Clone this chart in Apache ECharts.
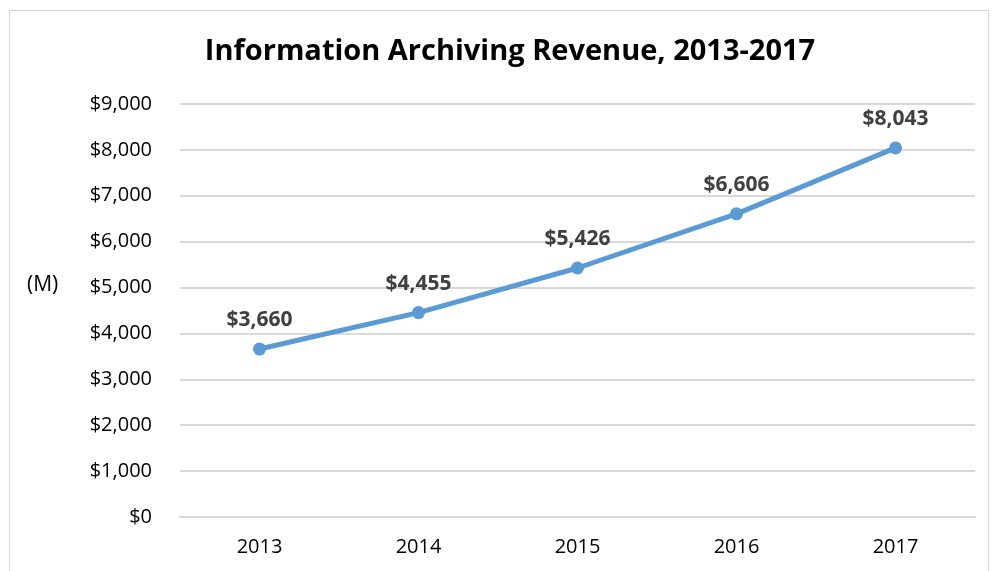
<!DOCTYPE html>
<html>
<head>
<meta charset="utf-8">
<script src="https://cdn.jsdelivr.net/npm/echarts@6/dist/echarts.min.js"></script>
<style>
  html, body { margin: 0; padding: 0; background: #fff; }
  #frame { position: absolute; left: 9px; top: 10px; width: 980px; height: 600px; border: 1px solid #d9d9d9; box-sizing: border-box; }
  #main { position: absolute; left: 0; top: 0; width: 992px; height: 571px; }
</style>
</head>
<body>
<div id="frame"></div>
<div id="main"></div>
<script>
var years = ['2013', '2014', '2015', '2016', '2017']
var revenue = [3660, 4455, 5426, 6606, 8043]

var chart = echarts.init(document.getElementById('main'))

function money(v) {
  return '$' + v.toLocaleString('en-US')
}

var option = {
  title: {
    text: 'Information Archiving Revenue, 2013-2017',
    left: 505,
    top: 32,
    textAlign: 'center',
    textStyle: {
      fontFamily: 'Open Sans',
      fontWeight: 'bold',
      fontSize: 29,
      color: '#000'
    }
  },
  graphic: [{
    type: 'text',
    left: 27,
    top: 275,
    style: {
      text: '(M)',
      font: '21px "Open Sans"',
      fill: '#000'
    }
  }],
  grid: {
    left: 180,
    right: 17,
    top: 104,
    bottom: 54
  },
  xAxis: {
    type: 'category',
    data: years,
    boundaryGap: true,
    axisLine: { lineStyle: { color: '#d9d9d9', width: 2 } },
    axisTick: { show: false },
    axisLabel: {
      margin: 20,
      fontFamily: 'Open Sans',
      fontSize: 20,
      color: '#000'
    }
  },
  yAxis: {
    type: 'value',
    min: 0,
    max: 9000,
    interval: 1000,
    axisLine: { show: false },
    axisTick: { show: false },
    splitLine: { lineStyle: { color: '#d9d9d9', width: 2 } },
    axisLabel: {
      margin: 28,
      fontFamily: 'Open Sans',
      fontSize: 20,
      color: '#000',
      formatter: money
    }
  },
  series: [{
    type: 'line',
    data: revenue,
    symbol: 'circle',
    symbolSize: 13,
    lineStyle: { color: '#5b9bd5', width: 5 },
    itemStyle: { color: '#5b9bd5' },
    label: {
      show: true,
      position: 'top',
      distance: 12,
      fontFamily: 'Open Sans',
      fontWeight: 'bold',
      fontSize: 21,
      color: '#404040',
      formatter: function (p) { return money(p.value) }
    }
  }]
}
chart.setOption(option)
</script>
</body>
</html>
